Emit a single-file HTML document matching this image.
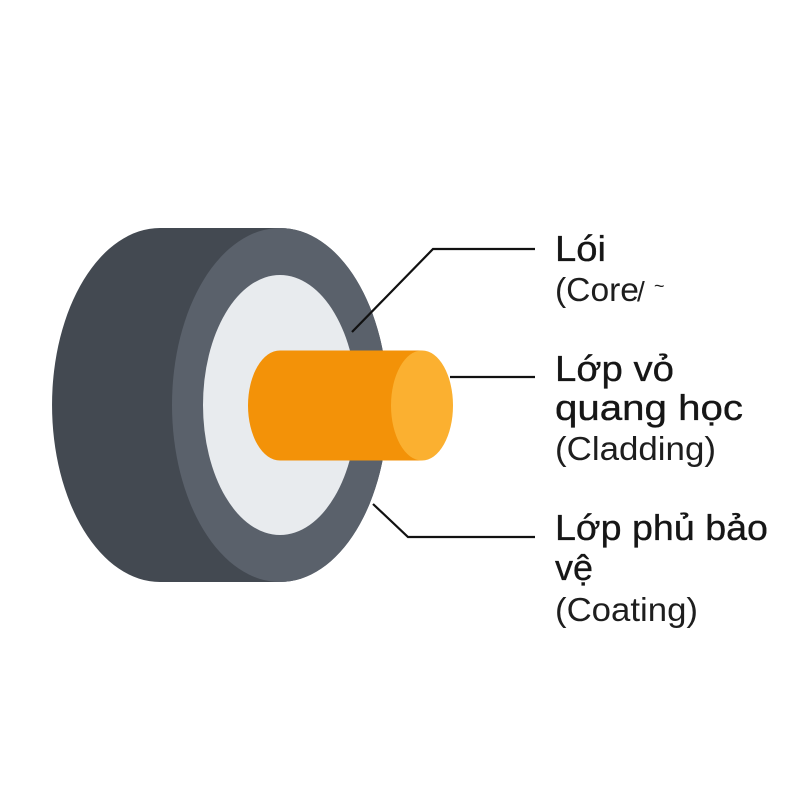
<!DOCTYPE html>
<html>
<head>
<meta charset="utf-8">
<style>
  html, body { margin: 0; padding: 0; background: #ffffff; }
  svg { display: block; }
  .main { font-family: "Liberation Sans", "DejaVu Sans", sans-serif; font-size: 36px; fill: #161616; stroke: #161616; stroke-width: 0.35px; }
  .sub { font-family: "Liberation Sans", "DejaVu Sans", sans-serif; font-size: 33px; fill: #1e1e1e; }
</style>
</head>
<body>
<svg width="800" height="800" viewBox="0 0 800 800" xmlns="http://www.w3.org/2000/svg">
  <rect width="800" height="800" fill="#ffffff"/>

  <!-- dark outer body (back ellipse + side) -->
  <path d="M160,228 L280,228 A108,177 0 0 1 280,582 L160,582 A108,177 0 0 1 160,228 Z" fill="#434951"/>
  <!-- front face ring -->
  <ellipse cx="280" cy="405" rx="108" ry="177" fill="#5a616b"/>
  <!-- cladding (white) -->
  <ellipse cx="280" cy="405" rx="77" ry="130" fill="#e8ebee"/>

  <!-- orange core cylinder -->
  <ellipse cx="280" cy="405.5" rx="32" ry="55" fill="#f39208"/>
  <rect x="280" y="350.5" width="142" height="110" fill="#f39208"/>
  <ellipse cx="422" cy="405.5" rx="31" ry="55" fill="#fbb030"/>

  <!-- leader lines -->
  <polyline points="352,332 433,249 535,249" fill="none" stroke="#111" stroke-width="2.2"/>
  <line x1="450" y1="377" x2="535" y2="377" stroke="#111" stroke-width="2.2"/>
  <polyline points="373,504 408,537 535,537" fill="none" stroke="#111" stroke-width="2.2"/>

  <!-- labels -->
  <text class="main" x="555" y="261" textLength="51" lengthAdjust="spacingAndGlyphs">Lói</text>
  <text class="sub" x="555" y="301" textLength="84" lengthAdjust="spacingAndGlyphs">(Core</text>
  <text class="sub" x="637" y="301" style="font-size:28px">/</text>
  <text class="sub" x="654" y="292" style="font-size:18px">~</text>

  <text class="main" x="555" y="381" textLength="119" lengthAdjust="spacingAndGlyphs">Lớp vỏ</text>
  <text class="main" x="555" y="420" textLength="188" lengthAdjust="spacingAndGlyphs">quang học</text>
  <text class="sub" x="555" y="460" textLength="161" lengthAdjust="spacingAndGlyphs">(Cladding)</text>

  <text class="main" x="555" y="540" textLength="213" lengthAdjust="spacingAndGlyphs">Lớp phủ bảo</text>
  <text class="main" x="555" y="580" textLength="38" lengthAdjust="spacingAndGlyphs">vệ</text>
  <text class="sub" x="555" y="621" textLength="143" lengthAdjust="spacingAndGlyphs">(Coating)</text>
</svg>
</body>
</html>
